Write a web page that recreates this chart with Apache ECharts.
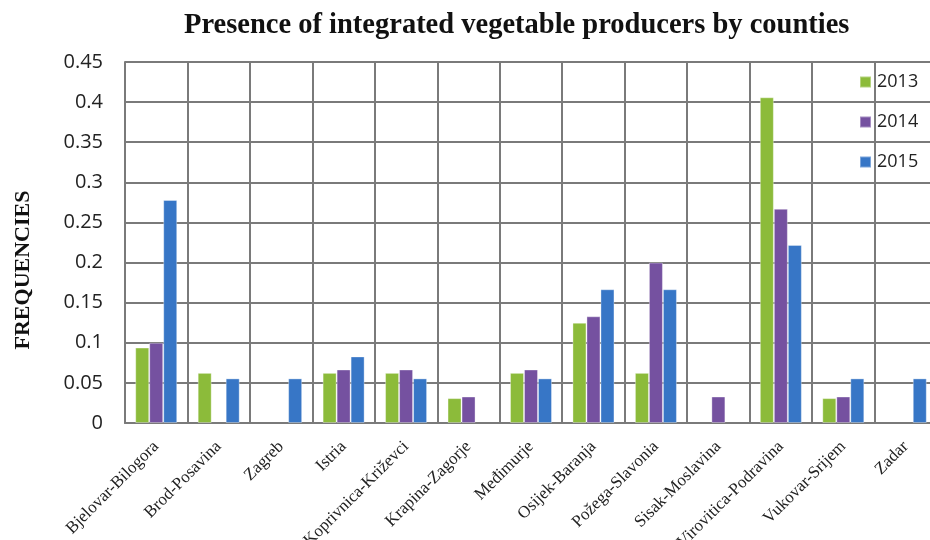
<!DOCTYPE html>
<html>
<head>
<meta charset="utf-8">
<script src="https://cdn.jsdelivr.net/npm/echarts@6/dist/echarts.min.js"></script>
<style>
  html, body { margin: 0; padding: 0; background: #fff; }
  #chart { width: 930px; height: 540px; }
</style>
</head>
<body>
<div id="chart"></div>
<script>
// Counties on the x axis
const counties = [
  'Bjelovar-Bilogora', 'Brod-Posavina', 'Zagreb', 'Istria', 'Koprivnica-Križevci',
  'Krapina-Zagorje', 'Međimurje', 'Osijek-Baranja', 'Požega-Slavonia', 'Sisak-Moslavina',
  'Virovitica-Podravina', 'Vukovar-Srijem', 'Zadar'
];

// Relative frequencies per year (null = no producers)
const freq2013 = [0.094, 0.0625, null, 0.0625, 0.0625, 0.031, 0.0625, 0.125, 0.0625, null, 0.406, 0.031, null];
const freq2014 = [0.1, null, null, 0.0667, 0.0667, 0.033, 0.0667, 0.133, 0.2, 0.033, 0.267, 0.033, null];
const freq2015 = [0.278, 0.0556, 0.0556, 0.083, 0.0556, null, 0.0556, 0.1667, 0.1667, null, 0.222, 0.0556, 0.0556];

const years = ['2013', '2014', '2015'];
const yTicks = { min: 0, max: 0.45, step: 0.05 };

const colors = ['#8cbb3a', '#7551a0', '#3776c6'];
const gridGray = '#7a7a7a';

const chart = echarts.init(document.getElementById('chart'));

function barSeries(name, data, color) {
  return {
    name: name,
    type: 'bar',
    data: data,
    barWidth: 14,
    barGap: '0%',
    itemStyle: { color: color, borderColor: 'rgba(255,255,255,0.35)', borderWidth: 1 },
    emphasis: { disabled: true }
  };
}

chart.setOption({
  animation: false,
  backgroundColor: '#fff',
  title: {
    text: 'Presence of integrated vegetable producers by counties',
    left: 184,
    top: 11,
    padding: 0,
    textStyle: {
      fontFamily: 'Liberation Serif',
      fontWeight: 'bold',
      fontSize: 28.5,
      color: '#111'
    }
  },
  legend: {
    data: years,
    orient: 'vertical',
    left: 859,
    top: 70,
    padding: 0,
    itemWidth: 11,
    itemHeight: 11,
    itemGap: 16,
    icon: 'rect',
    textStyle: {
      fontFamily: 'Open Sans',
      fontSize: 18,
      lineHeight: 22,
      color: '#222',
      backgroundColor: '#fff',
      padding: [1, 2, 1, 1]
    }
  },
  grid: {
    left: 125,
    top: 62,
    bottom: 117,
    width: 812,
    outerBoundsMode: 'none',
    containLabel: false
  },
  xAxis: {
    type: 'category',
    data: counties,
    boundaryGap: true,
    axisLine: { lineStyle: { color: gridGray, width: 2 } },
    axisTick: { show: false },
    splitLine: { show: true, lineStyle: { color: gridGray, width: 2 } },
    axisLabel: {
      interval: 0,
      rotate: 45,
      margin: 21,
      fontFamily: 'Liberation Serif',
      fontSize: 17,
      color: '#222'
    }
  },
  yAxis: {
    type: 'value',
    min: yTicks.min,
    max: yTicks.max,
    interval: yTicks.step,
    axisLine: { show: true, lineStyle: { color: gridGray, width: 2 } },
    axisTick: { show: false },
    splitLine: { show: true, lineStyle: { color: gridGray, width: 2 } },
    axisLabel: {
      margin: 22,
      fontFamily: 'Open Sans',
      fontSize: 20,
      color: '#222',
      formatter: v => String(parseFloat(v.toFixed(2)))
    }
  },
  graphic: [{
    type: 'text',
    x: 23,
    y: 270,
    rotation: Math.PI / 2,
    style: {
      text: 'FREQUENCIES',
      fontFamily: 'Liberation Serif',
      fontWeight: 'bold',
      fontSize: 22,
      fill: '#111',
      align: 'center',
      verticalAlign: 'middle'
    }
  }],
  series: [
    barSeries(years[0], freq2013, colors[0]),
    barSeries(years[1], freq2014, colors[1]),
    barSeries(years[2], freq2015, colors[2])
  ]
});
</script>
</body>
</html>
